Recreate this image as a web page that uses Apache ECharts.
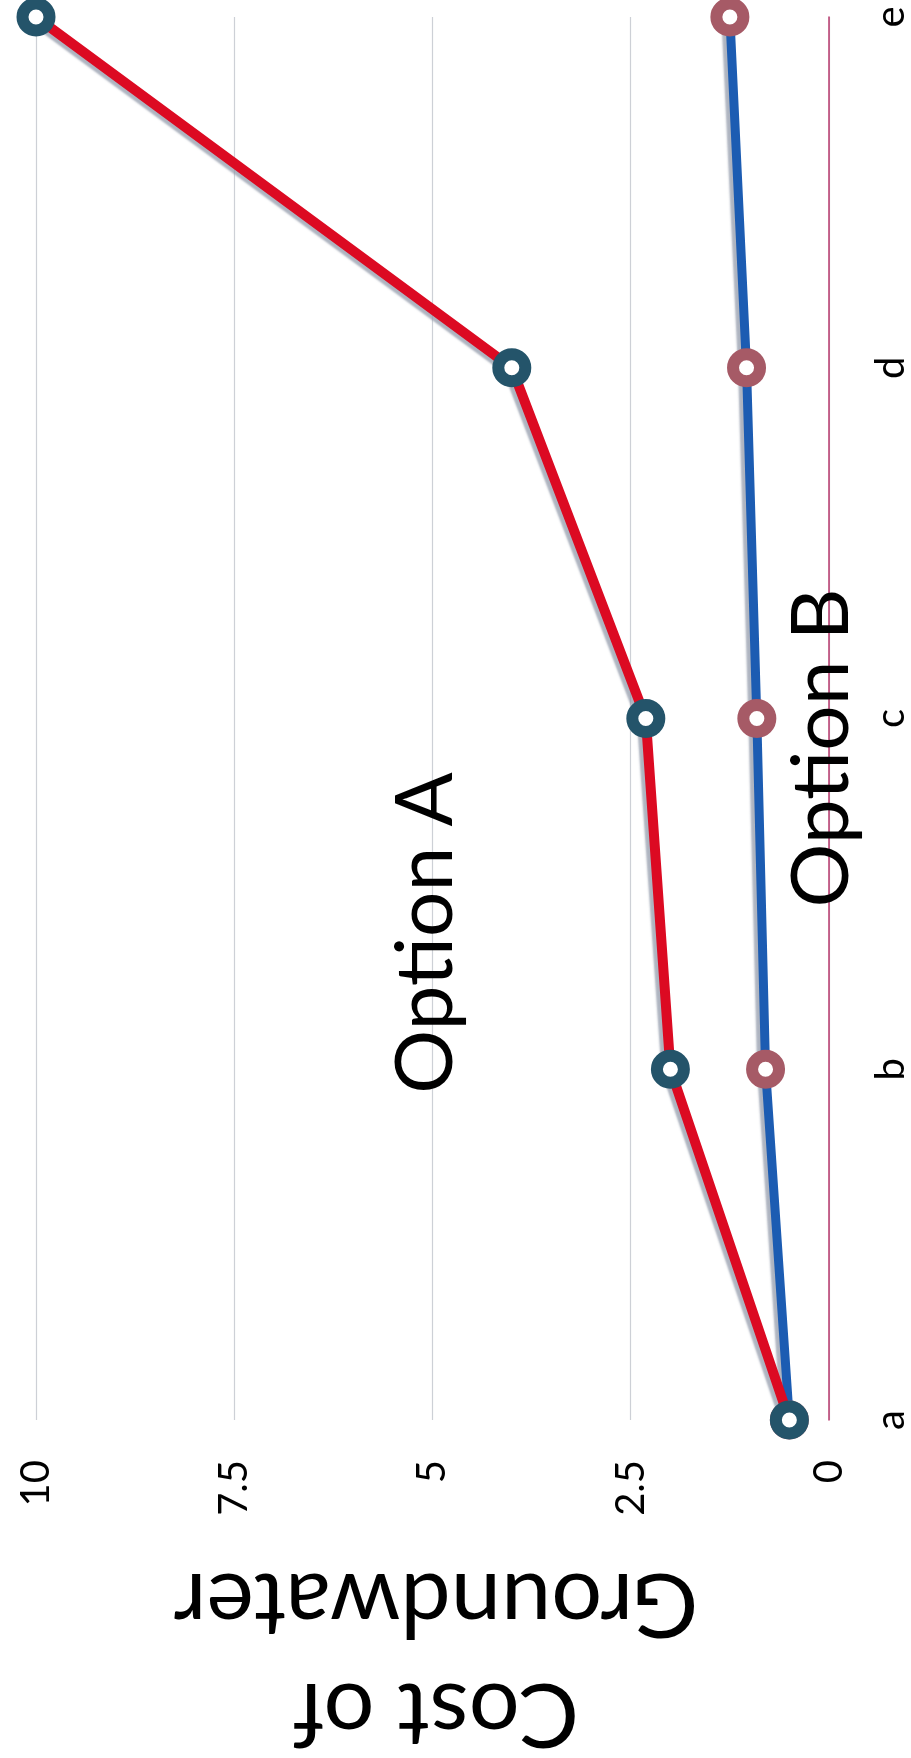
<!DOCTYPE html>
<html>
<head>
<meta charset="utf-8">
<script src="https://cdn.jsdelivr.net/npm/echarts@6/dist/echarts.min.js"></script>
<style>
  html, body { margin: 0; padding: 0; background: #ffffff; }
  #chart { width: 911px; height: 1758px; }
</style>
</head>
<body>
<div id="chart"></div>
<script>
// ---- data ----
const categories = ['a', 'b', 'c', 'd', 'e'];
const optionA = [0.5, 2.0, 2.31, 4.0, 10.0];
const optionB = [0.5, 0.8, 0.91, 1.04, 1.25];
const valueTickLabels = ['0', '2.5', '5', '7.5', '10'];
const seriesNames = ['Option A', 'Option B'];
const axisTitle = 'Cost of\nGroundwater';

const FONT = 'Lato, "Open Sans", sans-serif';

const chart = echarts.init(document.getElementById('chart'), null, { renderer: 'canvas' });

const option = {
  animation: false,
  backgroundColor: '#ffffff',
  grid: { left: 36, right: 76, top: 17, bottom: 338, containLabel: false },
  xAxis: {
    type: 'value',
    min: 0,
    max: 10,
    interval: 2.5,
    inverse: true,
    position: 'bottom',
    axisLine: { show: false },
    axisTick: { show: false },
    splitLine: { show: true, lineStyle: { color: '#cdd0d6', width: 1.2 } },
    axisLabel: {
      rotate: 90,
      margin: 40,
      fontSize: 40,
      fontFamily: FONT,
      color: '#000',
      formatter: function (v) {
        const i = Math.round(v / 2.5);
        return valueTickLabels[i] !== undefined ? valueTickLabels[i] : '';
      }
    }
  },
  yAxis: {
    type: 'category',
    data: categories,
    boundaryGap: false,
    position: 'right',
    axisLine: { show: true, lineStyle: { color: '#b83a6e', width: 1.5 } },
    axisTick: { show: false },
    splitLine: { show: false },
    axisLabel: {
      rotate: 90,
      margin: 42,
      fontSize: 40,
      fontFamily: FONT,
      color: '#000'
    }
  },
  series: [
    {
      name: seriesNames[1],
      type: 'line',
      data: optionB,
      z: 2,
      symbol: 'circle',
      symbolSize: 27,
      showAllSymbol: true,
      lineStyle: {
        color: '#1c5cb2', width: 9,
        shadowColor: 'rgba(140,148,165,0.7)', shadowBlur: 2, shadowOffsetX: -4, shadowOffsetY: 2
      },
      itemStyle: { color: '#ffffff', borderColor: '#a65a66', borderWidth: 12 },
      emphasis: { disabled: true }
    },
    {
      name: seriesNames[0],
      type: 'line',
      data: optionA,
      z: 3,
      symbol: 'circle',
      symbolSize: 27,
      showAllSymbol: true,
      lineStyle: {
        color: '#dc0a22', width: 10,
        shadowColor: 'rgba(140,148,165,0.7)', shadowBlur: 2, shadowOffsetX: -4, shadowOffsetY: 2
      },
      itemStyle: { color: '#ffffff', borderColor: '#24546a', borderWidth: 12 },
      emphasis: { disabled: true }
    }
  ],
  graphic: [
    {
      type: 'text',
      x: 426, y: 933,
      rotation: Math.PI / 2,
      style: {
        text: seriesNames[0],
        fontSize: 80,
        fontFamily: FONT,
        fill: '#000',
        align: 'center',
        verticalAlign: 'middle'
      },
      z: 10
    },
    {
      type: 'text',
      x: 822, y: 748,
      rotation: Math.PI / 2,
      style: {
        text: seriesNames[1],
        fontSize: 80,
        fontFamily: FONT,
        fill: '#000',
        align: 'center',
        verticalAlign: 'middle'
      },
      z: 10
    },
    {
      type: 'text',
      x: 436, y: 1658,
      rotation: Math.PI,
      style: {
        text: axisTitle,
        fontSize: 90,
        lineHeight: 110,
        fontFamily: FONT,
        fill: '#000',
        align: 'center',
        verticalAlign: 'middle'
      },
      z: 10
    }
  ]
};

chart.setOption(option);
</script>
</body>
</html>
